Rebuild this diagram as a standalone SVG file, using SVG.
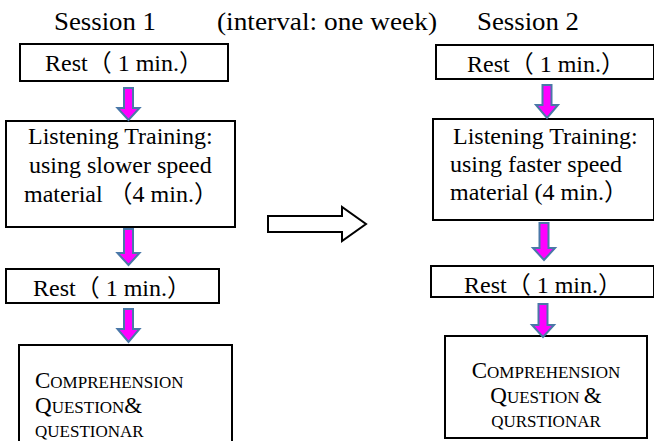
<svg xmlns="http://www.w3.org/2000/svg" width="654" height="441" viewBox="0 0 654 441">
<style>
.box{fill:#fff;stroke:#000;stroke-width:2}
.t{font-family:"Liberation Serif","Noto Sans CJK JP",serif;font-size:24px;fill:#000}
.h{font-family:"Liberation Serif","Noto Sans CJK JP",serif;font-size:25px;fill:#000}
.sc{font-family:"Liberation Serif",serif;font-size:17px;fill:#000}
.big{font-size:23px}
.arr{fill:#FF00FF;stroke:#4A78A8;stroke-width:2;stroke-linejoin:miter}
.hollow{fill:#fff;stroke:#000;stroke-width:2}
</style>
<rect width="654" height="441" fill="#fff"/>
<g id="titles">
<text class="h" x="54" y="30" textLength="102" lengthAdjust="spacingAndGlyphs">Session 1</text>
<text class="h" x="217" y="30" textLength="220" lengthAdjust="spacingAndGlyphs">(interval: one week)</text>
<text class="h" x="477" y="30" textLength="102" lengthAdjust="spacingAndGlyphs">Session 2</text>
</g>
<g id="s1-rest1">
<rect class="box" x="20" y="44" width="208" height="37"/>
<text class="t" x="45" y="71">Rest（ 1 min.）</text>
</g>
<g id="s1-listen">
<rect class="box" x="6" y="121" width="229" height="106"/>
<text class="t" x="28" y="144">Listening Training:</text>
<text class="t" x="29" y="173">using slower speed</text>
<text class="t" x="24" y="202">material （4 min.）</text>
</g>
<g id="s1-rest2">
<rect class="box" x="6" y="269" width="213" height="34"/>
<text class="t" x="33" y="296">Rest（ 1 min.）</text>
</g>
<g id="s1-comp">
<rect class="box" x="19" y="345" width="213" height="120"/>
<text class="sc" x="35" y="388"><tspan class="big">C</tspan>OMPREHENSION</text>
<text class="sc" x="35" y="413"><tspan class="big">Q</tspan>UESTION<tspan class="big">&amp;</tspan></text>
<text class="sc" x="35" y="437">QUESTIONAR</text>
</g>
<g id="s2-rest1">
<rect class="box" x="436" y="45" width="218" height="34"/>
<text class="t" x="467" y="72">Rest（ 1 min.）</text>
</g>
<g id="s2-listen">
<rect class="box" x="433" y="119" width="221" height="101"/>
<text class="t" x="453" y="144">Listening Training:</text>
<text class="t" x="450" y="172">using faster speed</text>
<text class="t" x="450" y="200">material (4 min.）</text>
</g>
<g id="s2-rest2">
<rect class="box" x="431" y="266" width="223" height="31"/>
<text class="t" x="464" y="293">Rest（ 1 min.）</text>
</g>
<g id="s2-comp">
<rect class="box" x="445" y="336" width="202" height="102"/>
<text class="sc" x="546" y="378" text-anchor="middle"><tspan class="big">C</tspan>OMPREHENSION</text>
<text class="sc" x="546" y="403" text-anchor="middle"><tspan class="big">Q</tspan>UESTION <tspan class="big">&amp;</tspan></text>
<text class="sc" x="546" y="427" text-anchor="middle">QURSTIONAR</text>
</g>
<g id="connectors">
<path class="arr" d="M124 88 H133 V108 H139.5 L128.5 120 L117.5 108 H124 Z"/>
<path class="arr" d="M124 229 H133 V253 H139.5 L128.5 265 L117.5 253 H124 Z"/>
<path class="arr" d="M124 309 H133 V329 H139.5 L128.5 342 L117.5 329 H124 Z"/>
<path class="arr" d="M542.5 85 H551.5 V105 H558 L547 118 L536 105 H542.5 Z"/>
<path class="arr" d="M539.5 223 H548.5 V248 H555 L544 260 L533 248 H539.5 Z"/>
<path class="arr" d="M538.5 304 H547.5 V325 H554 L543 337 L532 325 H538.5 Z"/>
<path class="hollow" d="M268 216 H342 V207 L366 224 L342 241 V232 H268 Z"/>
</g>
</svg>
